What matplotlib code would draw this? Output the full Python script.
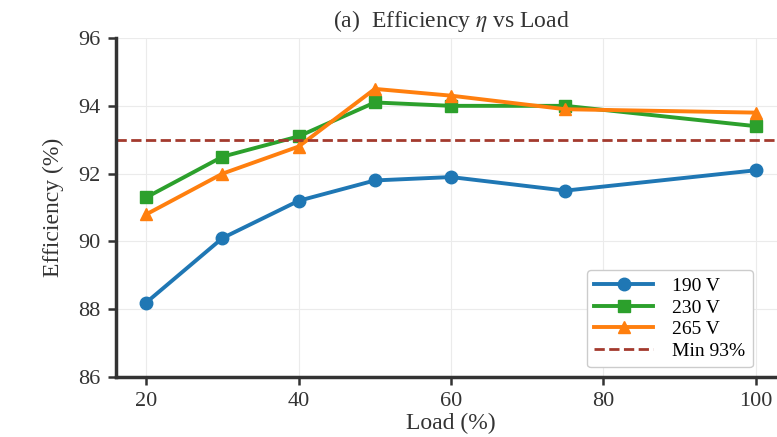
import matplotlib.pyplot as plt

# load points (% of rated) and measured efficiency per input voltage
load = [20, 30, 40, 50, 60, 75, 100]
eff_190 = [88.2, 90.1, 91.2, 91.8, 91.9, 91.5, 92.1]
eff_230 = [91.3, 92.5, 93.1, 94.1, 94.0, 94.0, 93.4]
eff_265 = [90.8, 92.0, 92.8, 94.5, 94.3, 93.9, 93.8]
min_eff = 93.0

plt.rcParams['font.family'] = ['Liberation Serif', 'DejaVu Serif']
plt.rcParams['mathtext.fontset'] = 'stix'

fig = plt.figure(figsize=(7.77, 4.37), dpi=100)
ax = fig.add_axes([0.149, 0.137, 0.863, 0.776])

ax.plot(load, eff_190, marker='o', color='#1f77b4', lw=2.8, ms=9, label='190 V')
ax.plot(load, eff_230, marker='s', color='#2ca02c', lw=2.8, ms=9, label='230 V')
ax.plot(load, eff_265, marker='^', color='#ff7f0e', lw=2.8, ms=9, label='265 V')
ax.axhline(min_eff, color='#a33a2e', ls='--', lw=2, label='Min 93%')

ax.set_xlim(16, 104)
ax.set_ylim(86, 96)
ax.set_xticks([20, 40, 60, 80, 100])
ax.set_yticks([86, 88, 90, 92, 94, 96])
ax.grid(True, color='#ebebeb', lw=0.8)
ax.set_axisbelow(True)

for side in ['top', 'right']:
    ax.spines[side].set_visible(False)
for side in ['left', 'bottom']:
    ax.spines[side].set_linewidth(2.5)
    ax.spines[side].set_color('#333333')
ax.tick_params(labelsize=16, width=1.8, length=6, pad=5, colors='#333333')

ax.set_xlabel('Load (%)', fontsize=17, color='#333333', labelpad=1)
ax.set_ylabel('Efficiency (%)', fontsize=17, color='#333333', labelpad=10)
ax.set_title(r'(a)  Efficiency $\eta$ vs Load', fontsize=17, color='#333333', pad=8)

ax.legend(loc='lower right', fontsize=14, frameon=True, framealpha=1,
          edgecolor='#cccccc', handlelength=3.0, handletextpad=1.0,
          labelspacing=0.2, bbox_to_anchor=(0.965, 0.0))

fig.savefig('out.png', dpi=100)
